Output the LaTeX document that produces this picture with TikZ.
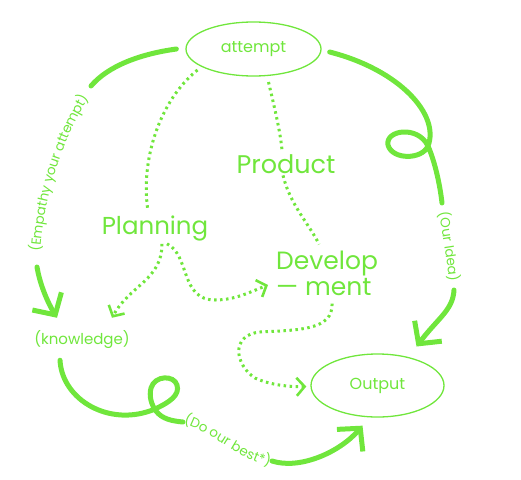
\documentclass[tikz,border=0pt]{standalone}
\usepackage{fontspec}
\setmainfont{Poppins}
\usetikzlibrary{arrows.meta,decorations.text,shapes.geometric,calc}
\definecolor{grn}{RGB}{112,230,60}
\newcommand\lblfont{\fontsize{13.5}{13.5}\selectfont}
\begin{document}
\begin{tikzpicture}[x=1pt,y=-1pt,
  solidln/.style={draw=grn,line width=5pt,line cap=round},
  dotln/.style={draw=grn,line width=3pt,dash pattern=on 2.5pt off 3.5pt},
  bigtip/.style={-{Straight Barb[length=16pt,width=34pt]}},
  smalltip/.style={-{Straight Barb[length=8pt,width=18pt,line width=2.6pt]}},
  oval/.style={ellipse,draw=grn,line width=1.3pt,inner sep=0pt,text=grn,font=\fontsize{16}{16}\selectfont},
  big/.style={text=grn,inner sep=0pt,font=\fontsize{25.5}{26}\selectfont},
  small/.style={text=grn,inner sep=0pt,font=\fontsize{15}{15}\selectfont},
  along/.style={decorate,decoration={text along path,text align=center,raise=-4.5pt,text color=grn,text={|\lblfont|#1}}}
]
\useasboundingbox (0,0) rectangle (521,479);

% nodes
\node[oval,minimum width=135pt,minimum height=54pt] (attempt) at (253.5,49) {attempt};
\node[oval,minimum width=133pt,minimum height=63pt] (output) at (377.5,385.5) {Output};
\node[small] (know) at (82,340) {(knowledge)};
\node[big,anchor=base] (product) at (286,173) {Product};
\node[big,anchor=base,font=\fontsize{24.5}{26}\selectfont] (planning) at (155,234) {Planning};
\node[big,anchor=west,align=left,font=\fontsize{25}{26}\selectfont] (dev) at (276,273) {Develop\\— ment};

% attempt -> knowledge
\coordinate (k1) at (91,86);
\coordinate (k2) at (35,263);
\coordinate (k3) at (37,267);
\draw[solidln] ($(attempt.west)+(-9,0)$) .. controls (140,54) and (108,66) .. (k1);
\path[along={(Empathy your attempt)}] (k2) .. controls (37,200) and (60,130) .. (k1);
\draw[solidln,bigtip] (k3) .. controls (40,285) and (48,303) .. ($(know.north)+(-25,-13)$);

% attempt -> output
\coordinate (o1) at (442,203);
\coordinate (o2) at (442,205);
\coordinate (o3) at (454,288);
\coordinate (o4) at (454,290);
\draw[solidln] ($(attempt.east)+(8,3)$) .. controls (400,70) and (440,115) .. (428,146)
  .. controls (422,160) and (392,160) .. (388,145)
  .. controls (385,130) and (418,125) .. (428,146)
  .. controls (435,162) and (440,185) .. (o1);
\path[along={(Our Idea)}] (o2) .. controls (447,235) and (452,260) .. (o3);
\draw[solidln,bigtip] (o4) .. controls (453,310) and (438,318) .. ($(output.center)+(39,-39)$);

% knowledge -> output
\coordinate (d1) at (183,422);
\coordinate (d2) at (184,419);
\coordinate (d3) at (272,462);
\coordinate (d4) at (272,461);
\draw[solidln] ($(know.south)+(-22,11)$) .. controls (62,400) and (110,428) .. (155,409)
  .. controls (170,402) and (180,395) .. (177,385)
  .. controls (174,375) and (155,375) .. (151,388)
  .. controls (149,396) and (151,404) .. (156,411)
  .. controls (162,419) and (172,421) .. (d1);
\path[along={(Do our best*)}] (d2) .. controls (215,428) and (242,457) .. (d3);
\draw[solidln,bigtip] (d4) .. controls (300,470) and (340,452) .. ($(output.south)+(-15,8)$);

% dotted connectors
\draw[dotln] ($(attempt.center)+(-56,21)$) .. controls (160,100) and (140,160) .. ($(planning.north)+(-7,-4)$);
\draw[dotln] ($(attempt.center)+(15,33)$) .. controls (275,110) and (280,130) .. ($(product.north)+(-4,-4)$);
\draw[dotln] ($(product.south)+(-3,2)$) .. controls (290,205) and (310,225) .. ($(dev.north)+(-8,-6)$);
\draw[dotln,smalltip] ($(planning.south)+(7,3)$) .. controls (162,280) and (130,285) .. ($(know.north)+(30,-13)$);
\draw[dotln,smalltip] ($(planning.south)+(12,3)$) .. controls (190,255) and (180,300) .. (215,300)
  .. controls (235,300) and (250,292) .. ($(dev.west)+(-8,12)$);
\draw[dotln,smalltip] ($(dev.south)+(5,8)$) .. controls (333,330) and (300,330) .. (260,332)
  .. controls (230,335) and (235,365) .. (255,378)
  .. controls (270,385) and (290,387) .. ($(output.west)+(-4,1)$);
\end{tikzpicture}
\end{document}
